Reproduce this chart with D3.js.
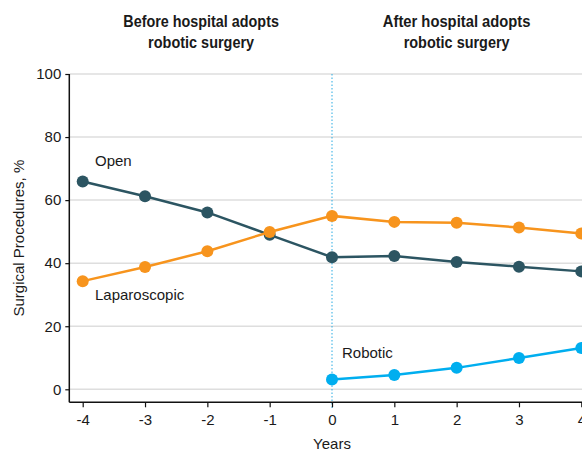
<!DOCTYPE html>
<html>
<head>
<meta charset="utf-8">
<script src="https://cdn.jsdelivr.net/npm/d3@7"></script>
<style>
  html, body { margin: 0; padding: 0; background: #fff; }
  svg { display: block; }
  text { font-family: "Liberation Sans", Arial, sans-serif; fill: #1a1a1a; }
</style>
</head>
<body>
<svg id="chart" width="582" height="451"></svg>
<script>
// ---- data ----
const years = [-4, -3, -2, -1, 0, 1, 2, 3, 4];
const openValues = [65.9, 61.2, 56.1, 49.0, 41.9, 42.3, 40.4, 38.9, 37.4];
const laparoscopicValues = [34.3, 38.8, 43.8, 49.9, 55.0, 53.1, 52.8, 51.3, 49.4];
const roboticYears = [0, 1, 2, 3, 4];
const roboticValues = [3.1, 4.5, 6.8, 9.9, 13.1];
const yTicks = [0, 20, 40, 60, 80, 100];
const xTicks = [-4, -3, -2, -1, 0, 1, 2, 3, 4];
const seriesNames = ["Open", "Laparoscopic", "Robotic"];
const periodTitles = [["Before hospital adopts", "robotic surgery"], ["After hospital adopts", "robotic surgery"]];
const periodTitleWidths = [[155.6, 106], [147.7, 106]];

const colors = { Open: "#2c5562", Laparoscopic: "#f7941d", Robotic: "#00aeef" };

const svg = d3.select("#chart");
const x = d3.scaleLinear().domain([-4, 4]).range([82.7, 581.3]);
const y = d3.scaleLinear().domain([0, 100]).range([389.3, 74]);
const axisLeftX = 69.3, axisBottomY = 402.3;

// gridlines
svg.append("g").selectAll("line").data(yTicks).join("line")
  .attr("x1", axisLeftX).attr("x2", 582)
  .attr("y1", d => y(d)).attr("y2", d => y(d))
  .attr("stroke", "#dedede").attr("stroke-width", 1.5);

// dotted divider at year 0
svg.append("line")
  .attr("x1", x(0)).attr("x2", x(0))
  .attr("y1", y(100)).attr("y2", axisBottomY + 6)
  .attr("stroke", "#29abe2").attr("stroke-width", 1)
  .attr("stroke-dasharray", "1.5,2");

// y axis
const yAxis = svg.append("g").attr("transform", `translate(${axisLeftX},0)`)
  .call(d3.axisLeft(y).tickValues(yTicks).tickSize(4).tickPadding(4));
yAxis.select(".domain").attr("d", `M0,${y(100)}V${axisBottomY}`).attr("stroke", "#111").attr("stroke-width", 1.5);
yAxis.selectAll(".tick line").attr("stroke", "#111").attr("stroke-width", 1.2);
yAxis.selectAll(".tick text").attr("font-size", 15).attr("font-family", "Liberation Sans, Arial, sans-serif").attr("fill", "#1a1a1a");

// x axis
const xAxis = svg.append("g").attr("transform", `translate(0,${axisBottomY})`)
  .call(d3.axisBottom(x).tickValues(xTicks).tickSize(5).tickPadding(7).tickFormat(d3.format("d")));
xAxis.select(".domain").attr("d", `M${axisLeftX},0H582`).attr("stroke", "#111").attr("stroke-width", 1.5);
xAxis.selectAll(".tick line").attr("stroke", "#111").attr("stroke-width", 1.2);
xAxis.selectAll(".tick text").attr("font-size", 15).attr("font-family", "Liberation Sans, Arial, sans-serif").attr("fill", "#1a1a1a")
  .text(d => d < 0 ? "-" + Math.abs(d) : d);

// axis titles
svg.append("text").attr("x", x(0)).attr("y", 449).attr("text-anchor", "middle")
  .attr("font-size", 15).text("Years");
svg.append("text").attr("transform", `translate(23.5,${(y(100) + axisBottomY) / 2}) rotate(-90)`)
  .attr("text-anchor", "middle").attr("font-size", 15).text("Surgical Procedures, %");

// period titles (bold, condensed to the reference widths)
const titleX = [x(-2.1), x(2)];
periodTitles.forEach((lines, i) => {
  lines.forEach((ln, j) => {
    svg.append("text").attr("text-anchor", "middle")
      .attr("font-weight", "bold").attr("font-size", 16.5)
      .attr("x", titleX[i]).attr("y", 27 + j * 20.5)
      .attr("textLength", periodTitleWidths[i][j])
      .attr("lengthAdjust", "spacingAndGlyphs")
      .text(ln);
  });
});

// series
const series = [
  { name: "Open", xs: years, vs: openValues },
  { name: "Laparoscopic", xs: years, vs: laparoscopicValues },
  { name: "Robotic", xs: roboticYears, vs: roboticValues }
];
const line = d3.line().x(d => x(d[0])).y(d => y(d[1]));
series.forEach(s => {
  const pts = s.xs.map((xv, i) => [xv, s.vs[i]]);
  const g = svg.append("g");
  g.append("path").datum(pts).attr("d", line)
    .attr("fill", "none").attr("stroke", colors[s.name]).attr("stroke-width", 2.5);
  g.selectAll("circle").data(pts).join("circle")
    .attr("cx", d => x(d[0])).attr("cy", d => y(d[1])).attr("r", 6)
    .attr("fill", colors[s.name]);
});

// series labels
const labelPos = { Open: [95, 165.5], Laparoscopic: [95, 300], Robotic: [342, 358] };
seriesNames.forEach(n => {
  svg.append("text").attr("x", labelPos[n][0]).attr("y", labelPos[n][1])
    .attr("font-size", 15).text(n);
});
</script>
</body>
</html>
